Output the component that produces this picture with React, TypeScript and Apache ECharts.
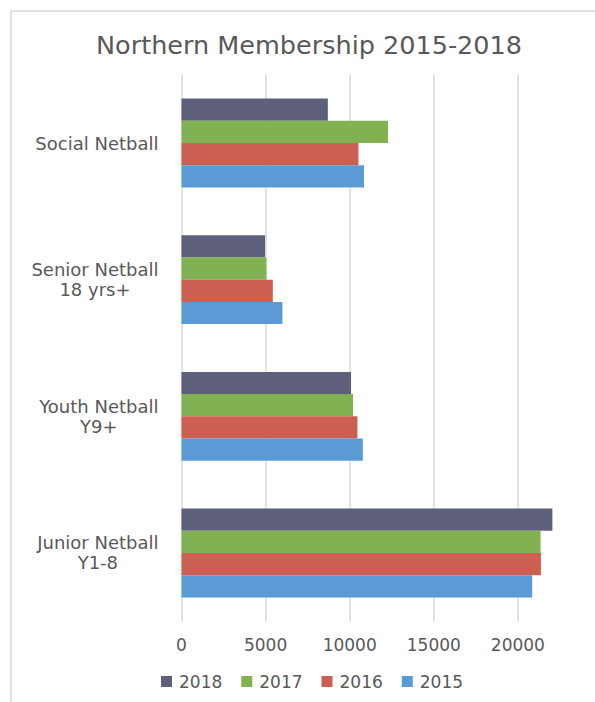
import React, { useEffect, useRef } from "react";
import * as echarts from "echarts";

const categories = [
  "Junior Netball\nY1-8",
  "Youth Netball\nY9+",
  "Senior Netball\n18 yrs+",
  "Social Netball",
];
const years = ["2018", "2017", "2016", "2015"];
const values2015 = [20850, 10780, 6000, 10850];
const values2016 = [21370, 10460, 5430, 10520];
const values2017 = [21350, 10200, 5050, 12280];
const values2018 = [22050, 10080, 4970, 8700];
const legendOrder = ["2018", "2017", "2016", "2015"];
const colors: Record<string, string> = {
  "2015": "#5b9bd5",
  "2016": "#cd5e52",
  "2017": "#81b150",
  "2018": "#5d5f7b",
};

const FONT = "DejaVu Sans";
const TEXT = "#595959";

export default function App() {
  const ref = useRef<HTMLDivElement>(null);
  useEffect(() => {
    if (!ref.current) return;
    const chart = echarts.init(ref.current, undefined, { renderer: "svg" });
    const byYear: Record<string, number[]> = {
      "2015": values2015,
      "2016": values2016,
      "2017": values2017,
      "2018": values2018,
    };
    chart.setOption({
      animation: false,
      backgroundColor: "#ffffff",
      title: {
        text: "Northern Membership 2015-2018",
        left: 304,
        top: 27,
        textAlign: "center",
        textStyle: {
          fontFamily: FONT,
          fontSize: 25.5,
          fontWeight: "normal",
          color: TEXT,
        },
      },
      graphic: [
        {
          type: "rect",
          shape: { x: 11, y: 11, width: 700, height: 800 },
          style: { fill: "none", stroke: "#d9d9d9", lineWidth: 1.5 },
          silent: true,
          z: -1,
        },
      ],
      legend: {
        data: legendOrder,
        left: 161,
        top: 673,
        padding: 0,
        itemWidth: 11,
        itemHeight: 11,
        itemGap: 19,
        icon: "rect",
        textStyle: {
          fontFamily: FONT,
          fontSize: 17,
          color: TEXT,
          padding: [0, 0, 0, 2],
        },
      },
      grid: {
        left: 181.5,
        right: 38,
        top: 74.7,
        bottom: 80.7,
        containLabel: false,
      },
      xAxis: {
        type: "value",
        min: 0,
        max: 25000,
        interval: 5000,
        axisLine: { show: false },
        axisTick: { show: false },
        splitLine: { lineStyle: { color: "#d9d9d9", width: 1.5 } },
        axisLabel: {
          fontFamily: FONT,
          fontSize: 17,
          color: TEXT,
          margin: 15,
          showMaxLabel: false,
          formatter: (v: number) => String(v),
        },
      },
      yAxis: {
        type: "category",
        data: categories,
        axisLine: { show: false },
        axisTick: { show: false },
        axisLabel: {
          margin: 23,
          align: "right",
          formatter: (v: string) =>
            v
              .split("\n")
              .map((l) => "{c|" + l + "}")
              .join("\n"),
          rich: {
            c: {
              align: "center",
              fontFamily: FONT,
              fontSize: 18,
              color: TEXT,
              lineHeight: 20,
            },
          },
        },
      },
      series: years.map((y) => ({
        name: y,
        type: "bar",
        data: byYear[y],
        barGap: "0%",
        barCategoryGap: "35%",
        itemStyle: { color: colors[y] },
      })),
    });
    return () => chart.dispose();
  }, []);
  return (
    <div
      ref={ref}
      style={{ position: "fixed", left: 0, top: 0, width: 640, height: 702 }}
    />
  );
}
